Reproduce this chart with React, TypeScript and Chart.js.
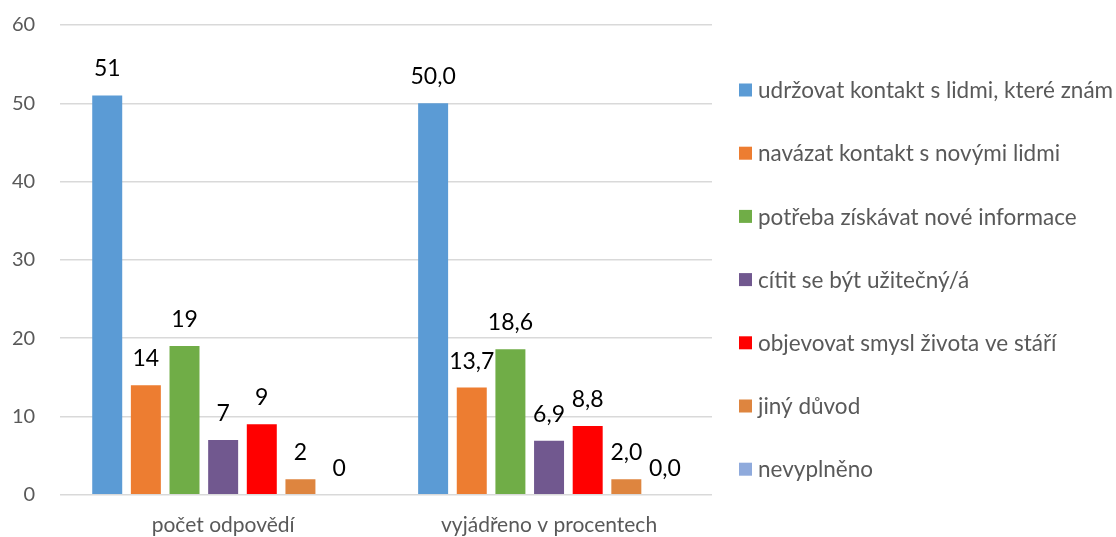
import React, { useEffect, useRef } from 'react';
import { Chart, registerables } from 'chart.js';

Chart.register(...registerables);

const categories = ['počet odpovědí', 'vyjádřeno v procentech'];

const seriesNames = [
  'udržovat kontakt s lidmi, které znám',
  'navázat kontakt s novými lidmi',
  'potřeba získávat nové informace',
  'cítit se být užitečný/á',
  'objevovat smysl života ve stáří',
  'jiný důvod',
  'nevyplněno',
];

const udrzovatKontakt = [51, 50.0];
const navazatKontakt = [14, 13.7];
const potrebaInformace = [19, 18.6];
const cititUzitecny = [7, 6.9];
const objevovatSmysl = [9, 8.8];
const jinyDuvod = [2, 2.0];
const nevyplneno = [0, 0.0];

const seriesValues = [
  udrzovatKontakt,
  navazatKontakt,
  potrebaInformace,
  cititUzitecny,
  objevovatSmysl,
  jinyDuvod,
  nevyplneno,
];

const seriesColors = ['#5B9BD5', '#ED7D31', '#70AD47', '#71588F', '#FF0000', '#DE853F', '#8FAADC'];

const yMin = 0;
const yMax = 60;
const yStep = 10;

const FONT = 'Lato';

function formatValue(v: number, categoryIndex: number): string {
  if (categoryIndex === 0) return String(Math.round(v));
  return v.toFixed(1).replace('.', ',');
}

const dataLabelPlugin = {
  id: 'dataLabels',
  afterDatasetsDraw(chart: any) {
    const { ctx } = chart;
    ctx.save();
    ctx.font = `23px ${FONT}`;
    ctx.fillStyle = '#000000';
    ctx.textAlign = 'center';
    ctx.textBaseline = 'alphabetic';
    chart.data.datasets.forEach((ds: any, di: number) => {
      const meta = chart.getDatasetMeta(di);
      meta.data.forEach((el: any, i: number) => {
        const v = ds.data[i] as number;
        ctx.fillText(formatValue(v, i), el.x, el.y - 19);
      });
    });
    ctx.restore();
  },
};

// Legend drawn from the chart's own datasets (labels + colours)
const sideLegendPlugin = {
  id: 'sideLegend',
  afterDraw(chart: any) {
    const { ctx, chartArea } = chart;
    const box = 13;
    const step = 63.2;
    const x0 = chartArea.right + 27;
    const y0 = 90;
    ctx.save();
    ctx.font = `22.5px ${FONT}`;
    ctx.textAlign = 'left';
    ctx.textBaseline = 'middle';
    chart.data.datasets.forEach((ds: any, i: number) => {
      const cy = y0 + i * step;
      ctx.fillStyle = ds.backgroundColor;
      ctx.fillRect(x0, cy - box / 2, box, box);
      ctx.fillStyle = '#595959';
      ctx.fillText(ds.label, x0 + box + 6, cy + 1);
    });
    ctx.restore();
  },
};

export default function App() {
  const canvasRef = useRef<HTMLCanvasElement | null>(null);

  useEffect(() => {
    if (!canvasRef.current) return;
    const chart = new Chart(canvasRef.current, {
      type: 'bar',
      data: {
        labels: categories,
        datasets: seriesNames.map((name, i) => ({
          label: name,
          data: seriesValues[i],
          backgroundColor: seriesColors[i],
          borderWidth: 0,
          barPercentage: 0.776,
          categoryPercentage: 0.83,
        })),
      },
      options: {
        animation: false,
        responsive: true,
        maintainAspectRatio: false,
        layout: {
          padding: { top: 0, left: -1, right: 404, bottom: -19 },
        },
        scales: {
          x: {
            grid: { display: false, drawTicks: false },
            border: { display: false },
            ticks: {
              color: '#595959',
              font: { family: FONT, size: 21 },
              padding: 18,
            },
          },
          y: {
            min: yMin,
            max: yMax,
            grid: {
              color: '#d9d9d9',
              lineWidth: 1.5,
              drawTicks: true,
              tickLength: 12,
              tickColor: 'rgba(0,0,0,0)',
            },
            border: { display: false },
            ticks: {
              stepSize: yStep,
              color: '#595959',
              font: { family: FONT, size: 20 },
              padding: 13,
            },
          },
        },
        plugins: {
          tooltip: { enabled: false },
          legend: { display: false },
        },
      },
      plugins: [dataLabelPlugin, sideLegendPlugin],
    });
    return () => chart.destroy();
  }, []);

  return (
    <div style={{ position: 'absolute', left: 0, top: 0, width: 1116, height: 537, background: '#ffffff' }}>
      <canvas ref={canvasRef} />
    </div>
  );
}
